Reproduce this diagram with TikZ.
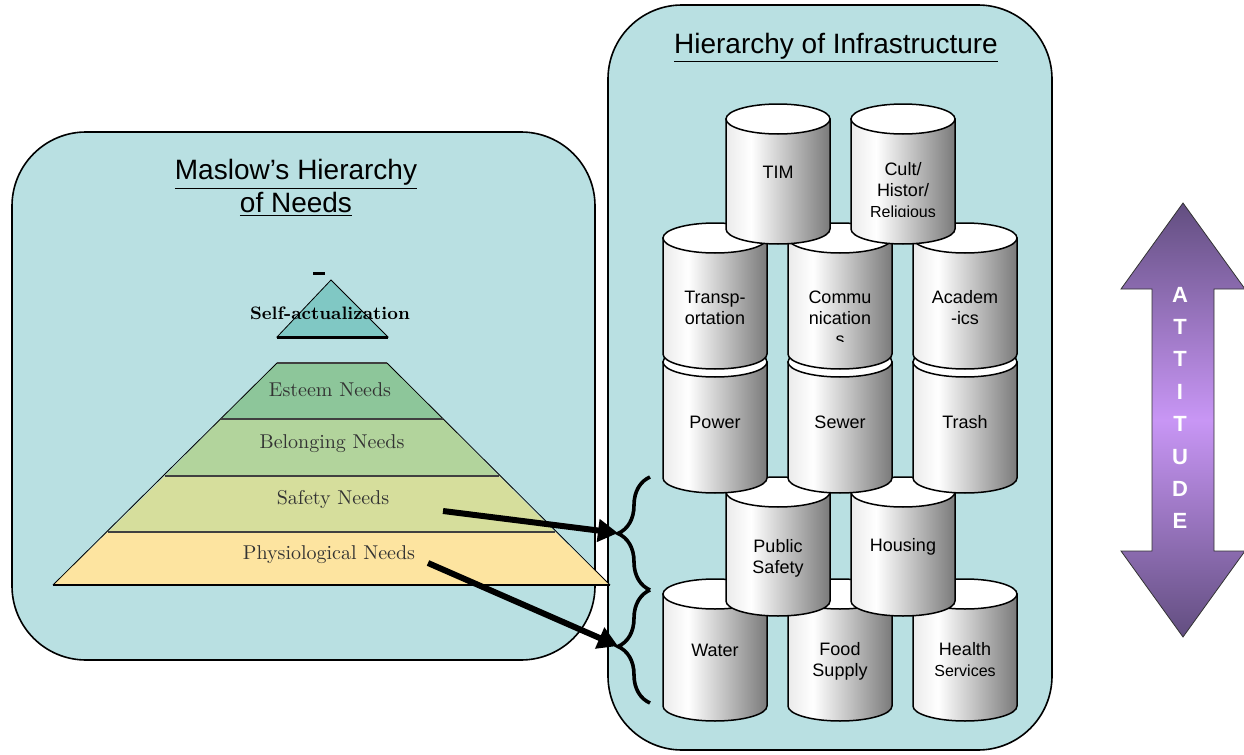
\documentclass[tikz,border=0pt]{standalone}
\usepackage{fontspec}
\setsansfont{Liberation Sans}
\usetikzlibrary{arrows.meta, decorations.pathreplacing}

\definecolor{panelbg}{RGB}{185,224,226}
\definecolor{selfcol}{RGB}{128,200,196}
\definecolor{esteemcol}{RGB}{141,198,154}
\definecolor{belongcol}{RGB}{178,212,156}
\definecolor{safetycol}{RGB}{214,222,156}
\definecolor{physcol}{RGB}{253,228,160}
\definecolor{attdark}{RGB}{98,78,128}
\definecolor{attlight}{RGB}{200,150,245}

% white-to-grey shade across a cylinder body
\pgfdeclarehorizontalshading{cylshade}{100bp}{color(0bp)=(black!8); color(25bp)=(black!8);
  color(37bp)=(white); color(75bp)=(black!52); color(100bp)=(black!52)}

\tikzset{
  panel/.style={draw=black, line width=0.8pt, fill=panelbg, rounded corners=37pt},
  paneltitle/.style={font=\sffamily\fontsize{14}{16.5}\selectfont, align=center, inner sep=0pt},
  layerline/.style={draw=black!75, line width=0.8pt},
  needtext/.style={font=\fontsize{10}{12}\selectfont, text=black!80, inner sep=0pt},
  cylbody/.style={draw=black, line width=0.75pt, shading=cylshade},
  cyltop/.style={draw=black, line width=0.75pt, fill=white},
  cyltext/.style={font=\sffamily\fontsize{9}{10.5}\selectfont, align=center, inner sep=0pt},
  needbrace/.style={decorate, decoration={brace, amplitude=16pt}, line width=1.8pt},
  needarrow/.style={->, line width=3pt},
}

\begin{document}
\begin{tikzpicture}[x=0.5pt, y=0.5pt, >={Triangle[length=10pt,width=11pt]}]
  \useasboundingbox (0,0) rectangle (1244,-755);

  % the two panels
  \draw[panel] (12,-132) rectangle (595,-660);
  \draw[panel] (608,-5) rectangle (1052,-750);
  \node[paneltitle] (maslowtitle) at (296,-188) {\underline{Maslow’s Hierarchy}\\\underline{of Needs}};
  \node[paneltitle] (infratitle) at (836,-48) {\underline{Hierarchy of Infrastructure}};

  % cylinders, lowest row first so the upper ones sit on top
  \foreach \cx/\yt/\yb in {715/594/706, 840/594/706, 965/594/706,
                           778/492/601, 903/492/601,
                           715/362/478, 840/362/478, 965/362/478,
                           715/238/354, 840/238/354, 965/238/354,
                           778/119/229, 903/119/229} {
    \shadedraw[cylbody] (\cx-52,-\yt) -- (\cx-52,-\yb)
      arc[start angle=180, end angle=360, x radius=52, y radius=15] -- (\cx+52,-\yt) -- cycle;
    \draw[cyltop] (\cx,-\yt) ellipse[x radius=52, y radius=15];
  }

  \node[cyltext] (tim) at (778,-172) {TIM};
  \begin{scope}
    \clip (851,-150) rectangle (955,-216);
    \node[cyltext] (cult) at (903,-192) {Cult/\\Histor/\\\fontsize{8}{9}\selectfont Religious};
  \end{scope}
  \node[cyltext] (transp) at (715,-308) {Transp-\\ortation};
  \begin{scope}
    \clip (788,-270) rectangle (892,-341);
    \node[cyltext] (commu) at (840,-318) {Commu\\nication\\s};
  \end{scope}
  \node[cyltext] (academ) at (965,-308) {Academ\\-ics};
  \node[cyltext] (power) at (715,-422) {Power};
  \node[cyltext] (sewer) at (840,-422) {Sewer};
  \node[cyltext] (trash) at (965,-422) {Trash};
  \node[cyltext] (pubsafety) at (778,-558) {Public\\Safety};
  \node[cyltext] (housing) at (903,-547) {Housing};
  \node[cyltext] (water) at (715,-650) {Water};
  \node[cyltext] (food) at (840,-661) {Food\\Supply};
  \node[cyltext] (health) at (965,-660) {Health\\\fontsize{8}{9}\selectfont Services};

  % braces grouping the two lowest rows
  \draw[needbrace] (650,-590) -- (650,-477);
  \draw[needbrace] (650,-703) -- (650,-590);
  \coordinate (upbrace) at (618,-533);
  \coordinate (lowbrace) at (618,-646);

  % pyramid layers
  \fill[physcol] (53,-585) -- (108,-532) -- (555,-532) -- (610,-585) -- cycle;
  \fill[safetycol] (108,-532) -- (165,-476) -- (499,-476) -- (555,-532) -- cycle;
  \fill[belongcol] (165,-476) -- (221,-419) -- (443,-419) -- (499,-476) -- cycle;
  \fill[esteemcol] (221,-419) -- (277,-363) -- (387,-363) -- (443,-419) -- cycle;
  \draw[thin] (53,-585) -- (277,-363) (610,-585) -- (387,-363);
  \draw[layerline] (277,-363) -- (387,-363);
  \draw[layerline] (221,-419) -- (443,-419);
  \draw[layerline] (165,-476) -- (499,-476);
  \draw[layerline] (108,-532) -- (555,-532);
  \draw[line width=1.2pt] (53,-585) -- (610,-585);

  \filldraw[fill=selfcol, draw=black, thin] (277,-337) -- (331,-280) -- (388,-337) -- cycle;
  \draw[line width=1.5pt] (277,-337) -- (388,-337);
  \draw[line width=1.5pt] (313,-273) -- (325,-273);
  \node[font=\bfseries\fontsize{9}{11}\selectfont, inner sep=0pt] (selfact) at (330,-313) {Self-actualization};

  \node[needtext] (esteem) at (330,-390) {Esteem Needs};
  \node[needtext] (belonging) at (332,-444) {Belonging Needs};
  \node[needtext] (safety) at (333,-499) {Safety Needs};
  \node[needtext] (physio) at (329,-555) {Physiological Needs};

  % needs pointing at the infrastructure they rest on
  \coordinate (safetytail) at (443,-511);
  \coordinate (physiotail) at (428,-563);
  \draw[needarrow] (safetytail) -- (upbrace);
  \draw[needarrow] (physiotail) -- (lowbrace);

  % attitude arrow
  \shadedraw[draw=black!80, thin, top color=attdark, bottom color=attdark, middle color=attlight]
    (1183,-203) -- (1245,-289) -- (1214,-289) -- (1214,-551) -- (1245,-551) -- (1183,-637)
    -- (1121,-551) -- (1152,-551) -- (1152,-289) -- (1121,-289) -- cycle;
  \node[font=\sffamily\bfseries\fontsize{11}{16.2}\selectfont, text=white, align=center, inner sep=0pt]
    (attitude) at (1180,-408) {A\\T\\T\\I\\T\\U\\D\\E};
\end{tikzpicture}
\end{document}
